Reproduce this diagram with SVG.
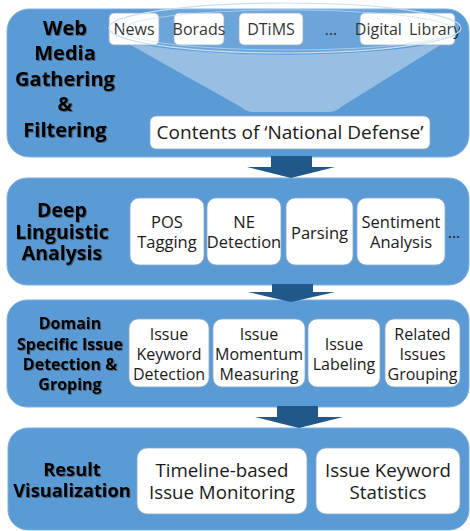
<svg xmlns="http://www.w3.org/2000/svg" width="470" height="531" viewBox="0 0 470 531">
<defs>
<filter id="tsh" x="-10%" y="-10%" width="130%" height="140%">
<feDropShadow dx="1" dy="1" stdDeviation="0.7" flood-color="#333" flood-opacity="0.55"/>
</filter>
</defs>
<style>
.panel{fill:#5B9BD5;stroke:#7DB0DF;stroke-width:1}
.box{fill:#fff;stroke:#8FA9C4;stroke-width:0.8}
.title{font-family:"Open Sans","Liberation Sans",sans-serif;font-weight:700;fill:#000;text-anchor:middle;filter:url(#tsh)}
.lbl{font-family:"Open Sans","Liberation Sans",sans-serif;fill:#1a1a1a;text-anchor:middle;font-size:16px}
.lbl.big{font-size:18.7px}
.lbl.huge{font-size:19px}
.lbl.mid{font-size:16.5px}
.arrow{fill:#22578A}
</style>
<rect width="470" height="531" fill="#fff"/>

<g id="panel-web-media">
<rect class="panel" x="7" y="9" width="462" height="148" rx="22"/>
<path d="M120 39 A176 24 0 0 0 450 39 L341 107 Q336 112 328 112 L254 112 Q246 112 241 107 Z" fill="#9DC3E6" opacity="0.9"/>
<text class="title" font-size="20" x="65"><tspan x="65" y="35">Web</tspan><tspan x="65" y="60">Media</tspan><tspan x="65" y="86">Gathering</tspan><tspan x="65" y="111">&amp;</tspan><tspan x="65" y="137">Filtering</tspan></text>
</g>
<g id="box-news"><rect class="box" x="109" y="13" width="50" height="32" rx="5"/><text class="lbl" x="134" y="35">News</text></g>
<g id="box-borads"><rect class="box" x="174" y="13" width="50" height="32" rx="5"/><text class="lbl" x="199" y="35">Borads</text></g>
<g id="box-dtims"><rect class="box" x="239" y="13" width="64" height="32" rx="5"/><text class="lbl" x="271" y="35">DTiMS</text></g>
<text class="lbl" x="331" y="35">...</text>
<g id="box-digital-library"><rect class="box" x="360" y="13" width="95" height="32" rx="5"/><text class="lbl" x="408" y="35" word-spacing="3">Digital Library</text></g>
<ellipse cx="285" cy="28" rx="176" ry="25" fill="#fff" fill-opacity="0.1" stroke="#C9DFF2" stroke-width="1.2"/>
<ellipse cx="288" cy="30" rx="166" ry="20" fill="none" stroke="#C9DFF2" stroke-width="0.9" stroke-opacity="0.7"/>
<g id="box-contents"><rect class="box" x="150" y="116" width="280" height="33" rx="6"/><text class="lbl huge" x="290" y="139">Contents of ‘National Defense’</text></g>

<g id="panel-deep-linguistic">
<rect class="panel" x="7" y="178" width="462" height="107" rx="20"/>
<text class="title" font-size="19.5"><tspan x="62" y="217">Deep</tspan><tspan x="62" y="238.5">Linguistic</tspan><tspan x="62" y="260">Analysis</tspan></text>
</g>
<g id="box-pos"><rect class="box" x="130" y="198" width="74" height="67" rx="9"/><text class="lbl mid"><tspan x="167" y="228">POS</tspan><tspan x="167" y="248">Tagging</tspan></text></g>
<g id="box-ne"><rect class="box" x="207" y="198" width="74" height="67" rx="9"/><text class="lbl mid"><tspan x="244" y="228">NE</tspan><tspan x="244" y="248">Detection</tspan></text></g>
<g id="box-parsing"><rect class="box" x="286" y="198" width="67" height="67" rx="9"/><text class="lbl mid" x="319.5" y="239">Parsing</text></g>
<g id="box-sentiment"><rect class="box" x="357" y="198" width="88" height="67" rx="9"/><text class="lbl mid"><tspan x="401" y="228">Sentiment</tspan><tspan x="401" y="248">Analysis</tspan></text></g>
<text class="lbl" x="454" y="238">...</text>

<g id="panel-domain-issue">
<rect class="panel" x="7" y="300" width="462" height="107" rx="20"/>
<text class="title" font-size="16"><tspan x="70" y="329">Domain</tspan><tspan x="70" y="350">Specific Issue</tspan><tspan x="70" y="370">Detection &amp;</tspan><tspan x="70" y="390">Groping</tspan></text>
</g>
<g id="box-keyword"><rect class="box" x="129" y="319" width="80" height="68" rx="9"/><text class="lbl"><tspan x="169" y="340">Issue</tspan><tspan x="169" y="360">Keyword</tspan><tspan x="169" y="380">Detection</tspan></text></g>
<g id="box-momentum"><rect class="box" x="213" y="319" width="92" height="68" rx="9"/><text class="lbl"><tspan x="259" y="340">Issue</tspan><tspan x="259" y="360">Momentum</tspan><tspan x="259" y="380">Measuring</tspan></text></g>
<g id="box-labeling"><rect class="box" x="308" y="319" width="72" height="68" rx="9"/><text class="lbl"><tspan x="344" y="350">Issue</tspan><tspan x="344" y="370">Labeling</tspan></text></g>
<g id="box-grouping"><rect class="box" x="385" y="319" width="75" height="68" rx="9"/><text class="lbl"><tspan x="422.5" y="340">Related</tspan><tspan x="422.5" y="360">Issues</tspan><tspan x="422.5" y="380">Grouping</tspan></text></g>

<g id="panel-result">
<rect class="panel" x="8" y="428" width="461" height="102" rx="20"/>
<text class="title" font-size="18.3"><tspan x="72" y="476">Result</tspan><tspan x="72" y="497">Visualization</tspan></text>
</g>
<g id="box-timeline"><rect class="box" x="137" y="448" width="170" height="66" rx="10"/><text class="lbl big"><tspan x="222" y="477">Timeline-based</tspan><tspan x="222" y="499">Issue Monitoring</tspan></text></g>
<g id="box-statistics"><rect class="box" x="316" y="448" width="144" height="66" rx="10"/><text class="lbl big"><tspan x="388" y="477">Issue Keyword</tspan><tspan x="388" y="499">Statistics</tspan></text></g>

<g id="connectors">
<path class="arrow" d="M271 156 H312 V167 H335 L291 178 L247 167 H271 Z"/>
<path class="arrow" d="M272 284 H313 V292 H335 L291 302 L248 292 H272 Z"/>
<path class="arrow" d="M277 406 H318 V417 H343 L299 428 L255 417 H277 Z"/>
</g>
</svg>
